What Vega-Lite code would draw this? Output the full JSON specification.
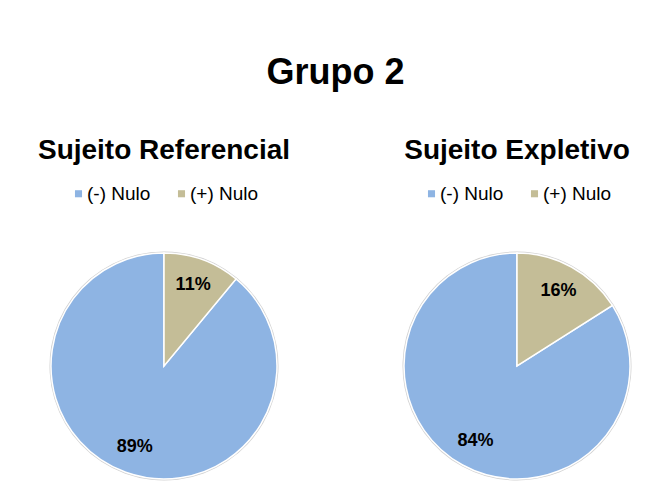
{
  "$schema": "https://vega.github.io/schema/vega-lite/v6.json",
  "background": "white",
  "padding": {"left": 37, "top": 55, "right": 0, "bottom": 0},
  "title": {"text": "Grupo 2", "fontSize": 36, "fontWeight": "bold", "font": "Liberation Sans", "color": "#000000", "anchor": "middle", "offset": 45},
  "spacing": 110,
  "hconcat": [
    {
      "width": 230,
      "height": 230,
      "title": {"text": "Sujeito Referencial"},
      "data": {"values": [
        {"categoria": "(-) Nulo", "valor": 0.89},
        {"categoria": "(+) Nulo", "valor": 0.11}
      ]},
      "layer": [
        {
          "mark": {"type": "arc", "outerRadius": 114.5, "color": "#d2d2d2"},
          "encoding": {
            "theta": {"field": "valor", "type": "quantitative", "stack": true},
            "order": {"field": "categoria", "sort": "ascending"}
          }
        },
        {
          "mark": {"type": "arc", "outerRadius": 113, "stroke": "white", "strokeWidth": 1.5},
          "encoding": {
            "theta": {"field": "valor", "type": "quantitative", "stack": true},
            "order": {"field": "categoria", "sort": "ascending"},
            "color": {"field": "categoria", "type": "nominal",
              "scale": {"domain": ["(-) Nulo", "(+) Nulo"], "range": ["#8EB4E3", "#C4BD97"]},
              "legend": {"title": null}}
          }
        },
        {
          "mark": {"type": "text", "radius": 86, "fontSize": 18, "fontWeight": "bold", "font": "Liberation Sans", "color": "#000000"},
          "encoding": {
            "theta": {"field": "valor", "type": "quantitative", "stack": true},
            "order": {"field": "categoria", "sort": "ascending"},
            "text": {"field": "valor", "type": "quantitative", "format": ".0%"}
          }
        }
      ]
    },
    {
      "width": 230,
      "height": 230,
      "title": {"text": "Sujeito Expletivo"},
      "data": {"values": [
        {"categoria": "(-) Nulo", "valor": 0.84},
        {"categoria": "(+) Nulo", "valor": 0.16}
      ]},
      "layer": [
        {
          "mark": {"type": "arc", "outerRadius": 114.5, "color": "#d2d2d2"},
          "encoding": {
            "theta": {"field": "valor", "type": "quantitative", "stack": true},
            "order": {"field": "categoria", "sort": "ascending"}
          }
        },
        {
          "mark": {"type": "arc", "outerRadius": 113, "stroke": "white", "strokeWidth": 1.5},
          "encoding": {
            "theta": {"field": "valor", "type": "quantitative", "stack": true},
            "order": {"field": "categoria", "sort": "ascending"},
            "color": {"field": "categoria", "type": "nominal",
              "scale": {"domain": ["(-) Nulo", "(+) Nulo"], "range": ["#8EB4E3", "#C4BD97"]},
              "legend": {"title": null}}
          }
        },
        {
          "mark": {"type": "text", "radius": 86, "fontSize": 18, "fontWeight": "bold", "font": "Liberation Sans", "color": "#000000"},
          "encoding": {
            "theta": {"field": "valor", "type": "quantitative", "stack": true},
            "order": {"field": "categoria", "sort": "ascending"},
            "text": {"field": "valor", "type": "quantitative", "format": ".0%"}
          }
        }
      ]
    }
  ],
  "resolve": {"scale": {"color": "independent"}, "legend": {"color": "independent"}},
  "config": {
    "view": {"stroke": null},
    "font": "Liberation Sans",
    "title": {"fontSize": 28, "fontWeight": "bold", "font": "Liberation Sans", "color": "#000000", "anchor": "middle", "offset": 19},
    "legend": {
      "orient": "top",
      "direction": "horizontal",
      "symbolType": "square",
      "symbolSize": 50,
      "symbolStrokeWidth": 0,
      "labelFontSize": 19,
      "labelFont": "Liberation Sans",
      "labelColor": "#000000",
      "labelOffset": -1,
      "columnPadding": 21,
      "offset": 47,
      "layout": {"top": {"anchor": "middle"}}
    }
  }
}
